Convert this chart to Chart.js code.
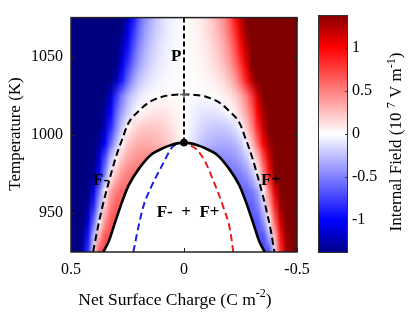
<!DOCTYPE html>
<html>
<head>
<meta charset="utf-8">
<script src="https://cdn.jsdelivr.net/npm/chart.js@4.4.1/dist/chart.umd.min.js"></script>
<style>
  body { margin: 0; background: #fff; }
  #wrap { position: relative; width: 415px; height: 313px; }
  #wrap canvas { position: absolute; left: 0; top: 0; }
</style>
</head>
<body>
<div id="wrap">
  <canvas id="phase" width="415" height="313"></canvas>
  <canvas id="cbar" width="415" height="313"></canvas>
</div>
<script>
const FONT = '"Liberation Serif", "Times New Roman", serif';

// axis ticks
const xTicks = [0.5, 0, -0.5];
const yTicks = [950, 1000, 1050];
const cbTicks = [-1, -0.5, 0, 0.5, 1];

// phase boundaries (net surface charge, temperature)
const solidSigma = [0.357, 0.333, 0.304, 0.274, 0.245, 0.2, 0.142, 0.105, 0.068, 0.03, 0,
                    -0.03, -0.068, -0.105, -0.142, -0.2, -0.245, -0.274, -0.304, -0.333, -0.357];
const solidTemp  = [925, 931.8, 944.4, 957.1, 967.6, 978.2, 987.7, 990.6, 992.9, 994.5, 995,
                    994.5, 992.9, 990.6, 987.7, 978.2, 967.6, 957.1, 944.4, 931.8, 925];
const dashSigma = [0.402, 0.385, 0.363, 0.333, 0.304, 0.274, 0.245, 0.2, 0.16, 0.1, 0.05, 0,
                   -0.05, -0.1, -0.16, -0.2, -0.245, -0.274, -0.304, -0.333, -0.363, -0.385, -0.4];
const dashTemp  = [925, 938, 952.8, 969.7, 984.5, 997, 1007.7, 1015.2, 1020.3, 1024.2, 1025.5, 1025.8,
                   1025.5, 1024.2, 1020.3, 1015.2, 1007.7, 997, 984.5, 969.7, 952.8, 938, 925];
const blueSigma = [0.224, 0.2, 0.178, 0.142, 0.097, 0.053, 0.02, 0];
const blueTemp  = [925, 942.3, 955, 967.6, 980.3, 991.9, 994.6, 995];
const redSigma  = [-0.218, -0.204, -0.174, -0.13, -0.093, -0.056, -0.019, 0];
const redTemp   = [925, 939, 953.7, 970.6, 983, 990.6, 993.8, 995];
const apexSigma = [0];
const apexTemp = [995];
const upperSigma = [0];
const upperTemp = [1025.8];
const axisLineTemp = [1075, 995];

// region labels
const annText = ['P', 'F-', 'F+', 'F-  +  F+'];
const annSigma = [0.035, 0.367, -0.385, -0.018];
const annTemp = [1050.3, 970.6, 970.6, 950.3];

// internal field (10^7 V/m) on a grid, left half (sigma 0.5 -> 0), rows from 1075 K down to 925 K.
// the right half of the picture is the same map mirrored with the sign flipped.
// null = inside the coexistence region (drawn white)
const fieldSigma = [0.5, 0.475, 0.45, 0.425, 0.4, 0.375, 0.35, 0.325, 0.3, 0.275, 0.25,
                    0.225, 0.2, 0.175, 0.15, 0.125, 0.1, 0.075, 0.05, 0.025, 0];
const fieldTemp = [1075, 1065, 1055, 1045, 1035, 1025, 1015, 1005, 995, 985, 975, 965, 955, 945, 935, 925];
const N = null;
const fieldRows = [
  [-1.5,-1.5,-1.5,-1.5,-1.5,-1.5,-1.5,-1.5,-1.5,-1.45,-1.2,-0.92,-0.64,-0.45,-0.33,-0.22,-0.14,-0.08,-0.05,-0.02,0],
  [-1.5,-1.5,-1.5,-1.5,-1.5,-1.5,-1.5,-1.5,-1.5,-1.35,-1.08,-0.8,-0.56,-0.39,-0.28,-0.19,-0.12,-0.07,-0.04,-0.02,0],
  [-1.5,-1.5,-1.5,-1.5,-1.5,-1.5,-1.5,-1.5,-1.48,-1.22,-0.94,-0.67,-0.46,-0.32,-0.22,-0.15,-0.09,-0.05,-0.03,-0.01,0],
  [-1.5,-1.5,-1.5,-1.5,-1.5,-1.5,-1.5,-1.5,-1.4,-1.08,-0.79,-0.55,-0.37,-0.25,-0.17,-0.11,-0.07,-0.04,-0.02,-0.01,0],
  [-1.5,-1.5,-1.5,-1.5,-1.5,-1.5,-1.5,-1.48,-1.22,-0.9,-0.6,-0.38,-0.24,-0.15,-0.1,-0.06,-0.04,-0.02,-0.01,0,0],
  [-1.5,-1.5,-1.5,-1.5,-1.5,-1.5,-1.42,-1.15,-0.78,-0.5,-0.3,-0.18,-0.1,-0.05,-0.02,0,0.01,0.02,0.02,0.01,0],
  [-1.5,-1.5,-1.5,-1.5,-1.5,-1.48,-1.3,-1.0,-0.62,-0.38,-0.2,-0.08,0,0.05,0.08,0.1,0.1,0.09,0.06,0.03,0],
  [-1.5,-1.5,-1.5,-1.5,-1.5,-1.42,-1.18,-0.85,-0.48,-0.2,0.02,0.12,0.18,0.21,0.22,0.21,0.19,0.15,0.1,0.05,0],
  [-1.5,-1.5,-1.5,-1.5,-1.48,-1.3,-1.0,-0.6,-0.25,0.02,0.2,0.28,0.32,0.33,0.32,0.3,0.27,0.22,0.15,0.08,0],
  [-1.5,-1.5,-1.5,-1.5,-1.45,-1.1,-0.7,-0.25,0.04,0.22,0.34,0.4,0.44,0.45,N,N,N,N,N,N,N],
  [-1.5,-1.5,-1.5,-1.48,-1.35,-0.95,-0.45,-0.02,0.26,0.42,0.5,0.55,N,N,N,N,N,N,N,N,N],
  [-1.5,-1.5,-1.5,-1.42,-1.08,-0.55,-0.02,0.33,0.5,0.58,N,N,N,N,N,N,N,N,N,N,N],
  [-1.5,-1.5,-1.48,-1.3,-0.85,-0.3,0.2,0.5,0.62,N,N,N,N,N,N,N,N,N,N,N,N],
  [-1.5,-1.5,-1.42,-1.12,-0.58,-0.02,0.42,0.66,N,N,N,N,N,N,N,N,N,N,N,N,N],
  [-1.5,-1.48,-1.32,-0.92,-0.25,0.32,0.68,N,N,N,N,N,N,N,N,N,N,N,N,N,N],
  [-1.5,-1.46,-1.25,-0.8,0.1,0.72,N,N,N,N,N,N,N,N,N,N,N,N,N,N,N]
];

// colour map of the colour bar
const cmapVal = [-1.4, -1, 0, 1, 1.4];
const cmapRGB = [[0, 0, 128], [0, 0, 255], [255, 255, 255], [255, 0, 0], [128, 0, 0]];

function colorOf(v) {
  if (v <= cmapVal[0]) return cmapRGB[0];
  if (v >= cmapVal[cmapVal.length - 1]) return cmapRGB[cmapRGB.length - 1];
  for (let i = 0; i < cmapVal.length - 1; i++) {
    if (v <= cmapVal[i + 1]) {
      const t = (v - cmapVal[i]) / (cmapVal[i + 1] - cmapVal[i]);
      return cmapRGB[i].map((c, k) => Math.round(c + t * (cmapRGB[i + 1][k] - c)));
    }
  }
}

function mirrorRow(row) {
  return row.concat(row.slice(0, -1).reverse().map(v => v === null ? null : -v));
}

function nearestValue(vals, i) {
  for (let d = 1; d < vals.length; d++) {
    if (i - d >= 0 && vals[i - d] !== null) return vals[i - d];
    if (i + d < vals.length && vals[i + d] !== null) return vals[i + d];
  }
  return 0;
}

function pts(xs, ys) {
  return xs.map((s, i) => ({ x: s, y: ys[i] }));
}

// text with superscripts, centred on (cx, cy)
function drawRich(ctx, parts, cx, cy, size) {
  const sup = Math.round(size * 0.68);
  let w = 0;
  parts.forEach(p => {
    ctx.font = (p[1] ? sup : size) + 'px ' + FONT;
    w += ctx.measureText(p[0]).width;
  });
  let x = cx - w / 2;
  ctx.textAlign = 'left';
  ctx.textBaseline = 'middle';
  ctx.fillStyle = '#000';
  parts.forEach(p => {
    ctx.font = (p[1] ? sup : size) + 'px ' + FONT;
    ctx.fillText(p[0], x, p[1] ? cy - size * 0.33 : cy);
    x += ctx.measureText(p[0]).width;
  });
}

const fieldPlugin = {
  id: 'field',
  beforeDatasetsDraw(chart) {
    const { ctx, chartArea: a, scales: { x, y } } = chart;
    const sig = fieldSigma.concat(fieldSigma.slice(0, -1).reverse().map(s => -s));
    const nc = sig.length, nr = fieldTemp.length;
    const off = document.createElement('canvas');
    off.width = nc;
    off.height = nr;
    const octx = off.getContext('2d');
    const img = octx.createImageData(nc, nr);
    fieldRows.forEach((row, r) => {
      const vals = mirrorRow(row);
      vals.forEach((v, c) => {
        const rgb = colorOf(v === null ? nearestValue(vals, c) : v);
        const k = (r * nc + c) * 4;
        img.data[k] = rgb[0];
        img.data[k + 1] = rgb[1];
        img.data[k + 2] = rgb[2];
        img.data[k + 3] = 255;
      });
    });
    octx.putImageData(img, 0, 0);

    const dx = x.getPixelForValue(sig[1]) - x.getPixelForValue(sig[0]);
    const dy = y.getPixelForValue(fieldTemp[1]) - y.getPixelForValue(fieldTemp[0]);
    const x0 = x.getPixelForValue(sig[0]) - dx / 2;
    const y0 = y.getPixelForValue(fieldTemp[0]) - dy / 2;

    ctx.save();
    ctx.beginPath();
    ctx.rect(a.left, a.top, a.right - a.left, a.bottom - a.top);
    ctx.clip();
    ctx.imageSmoothingEnabled = true;
    ctx.drawImage(off, x0, y0, dx * nc, dy * nr);

    // coexistence region under the solid curve stays white
    const meta = chart.getDatasetMeta(2);
    ctx.beginPath();
    if (meta.dataset && meta.dataset.path) {
      meta.dataset.path(ctx);
    } else {
      solidSigma.forEach((s, i) => {
        const px = x.getPixelForValue(s), py = y.getPixelForValue(solidTemp[i]);
        if (i) ctx.lineTo(px, py); else ctx.moveTo(px, py);
      });
    }
    ctx.lineTo(x.getPixelForValue(solidSigma[solidSigma.length - 1]), a.bottom + 3);
    ctx.lineTo(x.getPixelForValue(solidSigma[0]), a.bottom + 3);
    ctx.closePath();
    ctx.fillStyle = '#fff';
    ctx.fill();
    ctx.restore();
  }
};

const framePlugin = {
  id: 'frame',
  afterDatasetsDraw(chart) {
    const { ctx, chartArea: a, scales: { x, y } } = chart;
    ctx.save();
    // region labels
    ctx.fillStyle = '#000';
    ctx.font = 'bold 17px ' + FONT;
    ctx.textAlign = 'center';
    ctx.textBaseline = 'middle';
    annText.forEach((t, i) => {
      ctx.fillText(t, x.getPixelForValue(annSigma[i]), y.getPixelForValue(annTemp[i]));
    });

    // box with inward ticks
    ctx.strokeStyle = '#222';
    ctx.lineWidth = 1;
    ctx.beginPath();
    xTicks.forEach(v => {
      const px = Math.round(x.getPixelForValue(v)) + 0.5;
      ctx.moveTo(px, a.bottom); ctx.lineTo(px, a.bottom - 4);
      ctx.moveTo(px, a.top); ctx.lineTo(px, a.top + 4);
    });
    yTicks.forEach(v => {
      const py = Math.round(y.getPixelForValue(v)) + 0.5;
      ctx.moveTo(a.left, py); ctx.lineTo(a.left + 4, py);
      ctx.moveTo(a.right, py); ctx.lineTo(a.right - 4, py);
    });
    ctx.stroke();
    ctx.lineWidth = 1.5;
    ctx.strokeRect(a.left, a.top, a.right - a.left, a.bottom - a.top);

    // axis titles
    drawRich(ctx, [['Net Surface Charge (C m', false], ['-2', true], [')', false]], 175, 300, 17.5);
    ctx.translate(16, 134);
    ctx.rotate(-Math.PI / 2);
    drawRich(ctx, [['Temperature (K)', false]], 0, 0, 17);
    ctx.restore();
  }
};

const tickFont = { family: FONT, size: 16 };
const curve = { showLine: true, pointRadius: 0, cubicInterpolationMode: 'monotone' };

new Chart(document.getElementById('phase'), {
  type: 'scatter',
  data: {
    datasets: [
      { data: pts(apexSigma, apexTemp), pointRadius: 3.5, pointBackgroundColor: '#000', pointBorderColor: '#000' },
      { data: pts(upperSigma, upperTemp), pointStyle: 'cross', pointRadius: 4, pointBorderColor: '#666', pointBorderWidth: 1.5 },
      { ...curve, data: pts(solidSigma, solidTemp), borderColor: '#000', borderWidth: 2.6 },
      { ...curve, data: pts(dashSigma, dashTemp), borderColor: '#000', borderWidth: 2, borderDash: [7, 4] },
      { ...curve, data: pts(blueSigma, blueTemp), borderColor: '#1e1ee6', borderWidth: 2, borderDash: [7, 4] },
      { ...curve, data: pts(redSigma, redTemp), borderColor: '#e61e1e', borderWidth: 2, borderDash: [7, 4] },
      { data: pts([0, 0], axisLineTemp), showLine: true, borderColor: '#000', borderWidth: 2, borderDash: [5, 3], pointRadius: 0 }
    ]
  },
  options: {
    responsive: false,
    animation: false,
    layout: { padding: { left: 0, top: 15, right: 118, bottom: 0 } },
    plugins: { legend: { display: false }, tooltip: { enabled: false } },
    scales: {
      x: {
        type: 'linear', min: -0.5, max: 0.5, reverse: true,
        grid: { display: false, drawTicks: false },
        border: { display: false },
        ticks: { font: tickFont, color: '#000', padding: 8, maxRotation: 0, autoSkip: false, callback: v => String(v) },
        afterBuildTicks: s => { s.ticks = xTicks.map(v => ({ value: v })); },
        afterFit: s => { s.height = 61; }
      },
      y: {
        type: 'linear', min: 925, max: 1075,
        grid: { display: false, drawTicks: false },
        border: { display: false },
        ticks: { font: tickFont, color: '#000', padding: 8, autoSkip: false, callback: v => String(v) },
        afterBuildTicks: s => { s.ticks = yTicks.map(v => ({ value: v })); },
        afterFit: s => { s.width = 71; }
      }
    }
  },
  plugins: [fieldPlugin, framePlugin]
});

const cbarPlugin = {
  id: 'cbarFill',
  afterDraw(chart) {
    const { ctx, chartArea: a, scales: { y } } = chart;
    const lo = y.min, hi = y.max;
    const g = ctx.createLinearGradient(0, a.bottom, 0, a.top);
    const stops = [lo].concat(cmapVal.filter(v => v > lo && v < hi), [hi]);
    stops.forEach(v => g.addColorStop((v - lo) / (hi - lo), 'rgb(' + colorOf(v).join(',') + ')'));
    ctx.save();
    ctx.fillStyle = g;
    ctx.fillRect(a.left, a.top, a.right - a.left, a.bottom - a.top);
    ctx.strokeStyle = '#333';
    ctx.lineWidth = 1;
    ctx.beginPath();
    cbTicks.forEach(v => {
      const py = Math.round(y.getPixelForValue(v)) + 0.5;
      ctx.moveTo(a.right, py); ctx.lineTo(a.right - 3, py);
    });
    ctx.stroke();
    ctx.strokeRect(a.left + 0.5, a.top + 0.5, a.right - a.left - 1, a.bottom - a.top - 1);
    ctx.translate(397, 142);
    ctx.rotate(-Math.PI / 2);
    drawRich(ctx, [['Internal Field (10 ', false], ['7', true], [' V m', false], ['-1', true], [')', false]], 0, 0, 17);
    ctx.restore();
  }
};

new Chart(document.getElementById('cbar'), {
  type: 'scatter',
  data: { datasets: [] },
  options: {
    responsive: false,
    animation: false,
    layout: { padding: { left: 318, top: 15, right: 0, bottom: 60 } },
    plugins: { legend: { display: false }, tooltip: { enabled: false } },
    scales: {
      x: { display: false, min: 0, max: 1 },
      y: {
        position: 'right', min: -1.38, max: 1.38,
        grid: { display: false, drawTicks: false },
        border: { display: false },
        ticks: { font: tickFont, color: '#000', padding: 4, autoSkip: false, callback: v => String(v) },
        afterBuildTicks: s => { s.ticks = cbTicks.map(v => ({ value: v })); },
        afterFit: s => { s.width = 67; }
      }
    }
  },
  plugins: [cbarPlugin]
});
</script>
</body>
</html>
